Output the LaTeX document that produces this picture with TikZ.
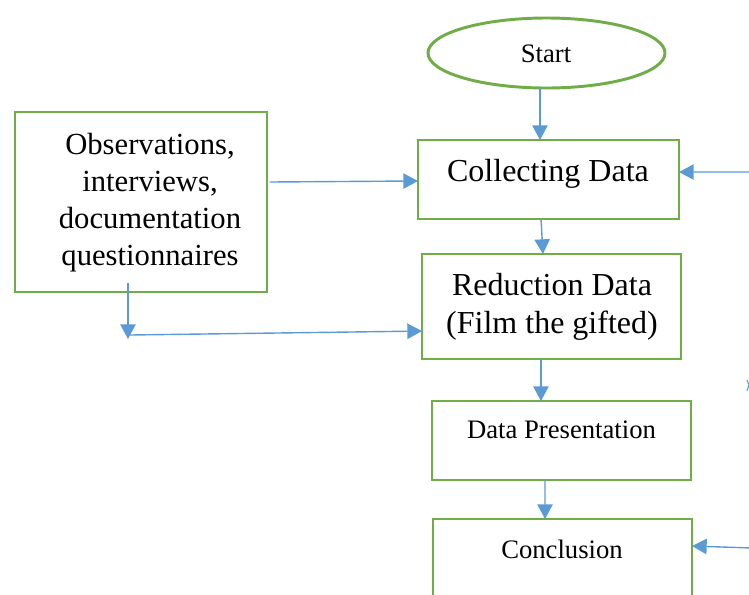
\documentclass[tikz,border=0pt]{standalone}
\usepackage{fontspec}
\setmainfont{Liberation Serif}
\usetikzlibrary{shapes.geometric,arrows.meta}
\definecolor{boxgreen}{HTML}{70AD47}
\definecolor{arrblue}{HTML}{5B9BD5}
\tikzset{
  greenbox/.style={draw=boxgreen,line width=2.2pt,rectangle,inner sep=0pt,outer sep=0pt},
  greenell/.style={draw=boxgreen,line width=2.2pt,ellipse,inner sep=0pt,outer sep=0pt},
  arr/.style={draw=arrblue,line width=1.05pt,-{Triangle[length=11pt,width=11.5pt]}},
  bigtxt/.style={font=\fontsize{24pt}{29pt}\selectfont,align=center,inner sep=0pt},
  midtxt/.style={font=\fontsize{23pt}{27.75pt}\selectfont,align=center,inner sep=0pt},
  smalltxt/.style={font=\fontsize{20pt}{24pt}\selectfont,align=center,inner sep=0pt}
}
\begin{document}
\begin{tikzpicture}[x=0.75pt,y=-0.75pt]
\clip (0,0) rectangle (749,594);
\fill[white] (0,0) rectangle (749,594);
% shapes
\node[greenell,minimum width=177.75pt,minimum height=52.5pt] (start) at (546.5,53) {};
\node[greenbox,minimum width=195.75pt,minimum height=59.25pt] (coll) at (548.5,179.5) {};
\node[greenbox,minimum width=189pt,minimum height=135pt] (obs) at (141,202) {};
\node[greenbox,minimum width=194.25pt,minimum height=78.75pt] (red) at (551.5,306.5) {};
\node[greenbox,minimum width=194.25pt,minimum height=59.25pt] (dp) at (561.5,440.5) {};
\node[greenbox,minimum width=194.25pt,minimum height=75pt] (conc) at (562.5,569) {};
% texts
\node[smalltxt] (tstart) at (546,54) {Start};
\node[bigtxt] (tcoll) at (548,174) {Collecting Data};
\node[midtxt] (tobs) at (150,203) {Observations,\\interviews,\\documentation\\questionnaires};
\node[bigtxt] (tred) at (552,307) {Reduction Data\\(Film the gifted)};
\node[smalltxt] (tdp) at (561.5,430) {Data Presentation};
\node[smalltxt] (tconc) at (562,549) {Conclusion};
% free ends
\coordinate (c1) at (128,339);
\coordinate (r1) at (752,172);
\coordinate (r2) at (752,548);
% connectors
\draw[arr] ([xshift=-4.9pt]start.south) -- ([xshift=-6.4pt]coll.north);
\draw[arr] ([xshift=-5.6pt]coll.south) -- ([xshift=-6.4pt]red.north);
\draw[arr] ([xshift=-7.9pt]red.south) -- ([xshift=-15.4pt]dp.north);
\draw[arr] ([xshift=-12.4pt]dp.south) -- ([xshift=-13.1pt]conc.north);
\draw[arr] ([xshift=2pt,yshift=15pt]obs.east) -- ([yshift=-1.1pt]coll.west);
\draw[arr] ([xshift=-9.75pt,yshift=6.75pt]obs.south) -- (c1);
\draw[arr] ([xshift=1.5pt,yshift=3pt]c1) -- ([yshift=-18.4pt]red.west);
\draw[arr] (r1) -- ([yshift=5.6pt]coll.east);
\draw[arr] (r2) -- ([yshift=17.25pt]conc.east);
% small fragment at right edge
\draw[arrblue,line width=0.8pt] (747,380) -- (749,385) -- (747,391);
\end{tikzpicture}
\end{document}
